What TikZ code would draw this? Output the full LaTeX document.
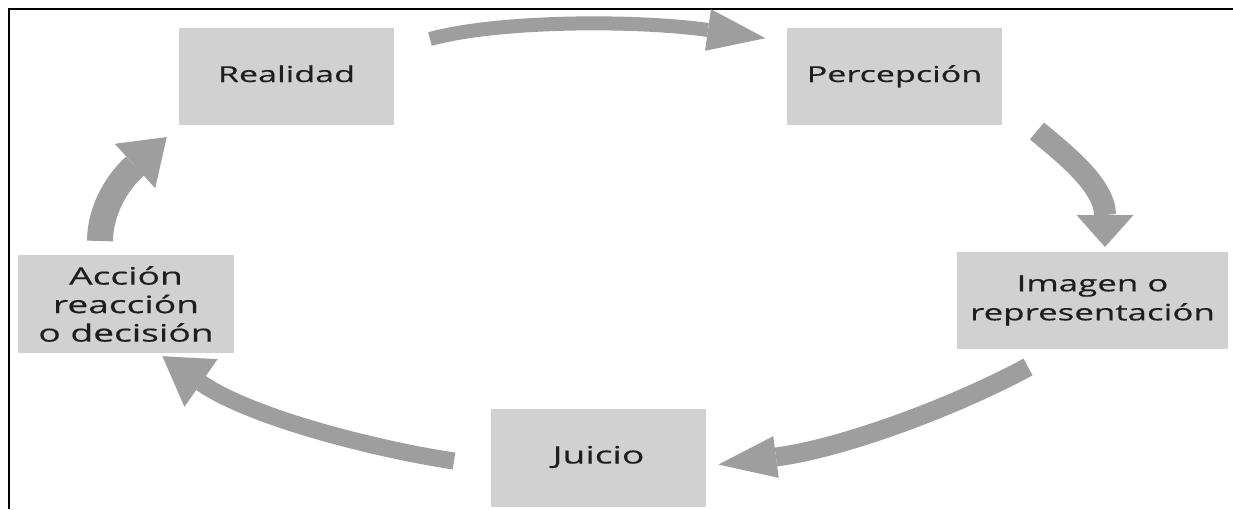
\documentclass[tikz,border=0pt]{standalone}
\usepackage{fontspec}
\usetikzlibrary{arrows.meta}
\newfontfamily\boxfont[FakeStretch=1.55,FakeBold=0.4]{Open Sans}
\definecolor{boxgray}{HTML}{D1D1D1}
\definecolor{arrgray}{HTML}{9E9E9E}
\definecolor{txtgray}{HTML}{1E1E1E}
\begin{document}
\begin{tikzpicture}[x=1pt,y=-1pt,
  stepbox/.style={fill=boxgray, inner sep=0pt, text=txtgray, align=center,
    minimum width=215pt, minimum height=97pt},
  smalltxt/.style={font=\boxfont\fontsize{22}{29}\selectfont, text height=16.5pt, text depth=5.5pt},
  bigtxt/.style={font=\boxfont\fontsize{24}{28.5}\selectfont},
  flow/.style={draw=arrgray, line cap=butt}]
\useasboundingbox (0,0) rectangle (1233,509);
\fill[white] (0,0) rectangle (1233,509);
\draw[line width=2.5pt] (9,509) -- (9,9) -- (1233,9);

\node[stepbox, smalltxt] (real) at (286.5,76.5) {Realidad};
\node[stepbox, smalltxt] (perc) at (894.5,76.5) {Percepción};
\node[stepbox, minimum width=271pt, font=\boxfont\fontsize{22.5}{29}\selectfont] (imag) at (1092.5,300.5) {Imagen o\\representación};
\node[stepbox, bigtxt, minimum height=98pt, text height=17pt, text depth=6pt] (juic) at (598.5,458) {Juicio};
\node[stepbox, bigtxt, minimum width=216pt, minimum height=98pt] (acci) at (126,304) {Acción\\reacción\\o decisión};

% free ends of the arrows
\coordinate (a1s) at (430,39);   \coordinate (a1e) at (708,30);
\coordinate (a2s) at (1037,131); \coordinate (a2e) at (1105,215);
\coordinate (a3s) at (1028,367); \coordinate (a3e) at (776,457);
\coordinate (a4s) at (454,461);  \coordinate (a4e) at (201,383);
\coordinate (a5s) at (100,241);  \coordinate (a5e) at (135,166);

\draw[flow, line width=14pt, shorten >=-58pt, -{Triangle[length=58pt,width=42pt,line width=0pt]}]
  (a1s) .. controls (500,20) and (638,20) .. (a1e);
\draw[flow, line width=22pt, shorten >=-32pt, -{Triangle[length=32pt,width=57pt,line width=0pt]}]
  (a2s) .. controls (1062,152) and (1105,185) .. (a2e);
\draw[flow, line width=19pt, shorten >=-58pt, -{Triangle[length=58pt,width=42pt,line width=0pt]}]
  (a3s) .. controls (958,405) and (845,448) .. (a3e);
\draw[flow, line width=17pt, shorten >=-47pt, -{Triangle[length=47pt,width=58pt,line width=0pt]}]
  (a4s) .. controls (374,449) and (250,417) .. (a4e);
\draw[flow, line width=26pt, shorten >=-43pt, -{Triangle[length=43pt,width=60pt,line width=0pt]}]
  (a5s) .. controls (100,215) and (113,186) .. (a5e);
\end{tikzpicture}
\end{document}
